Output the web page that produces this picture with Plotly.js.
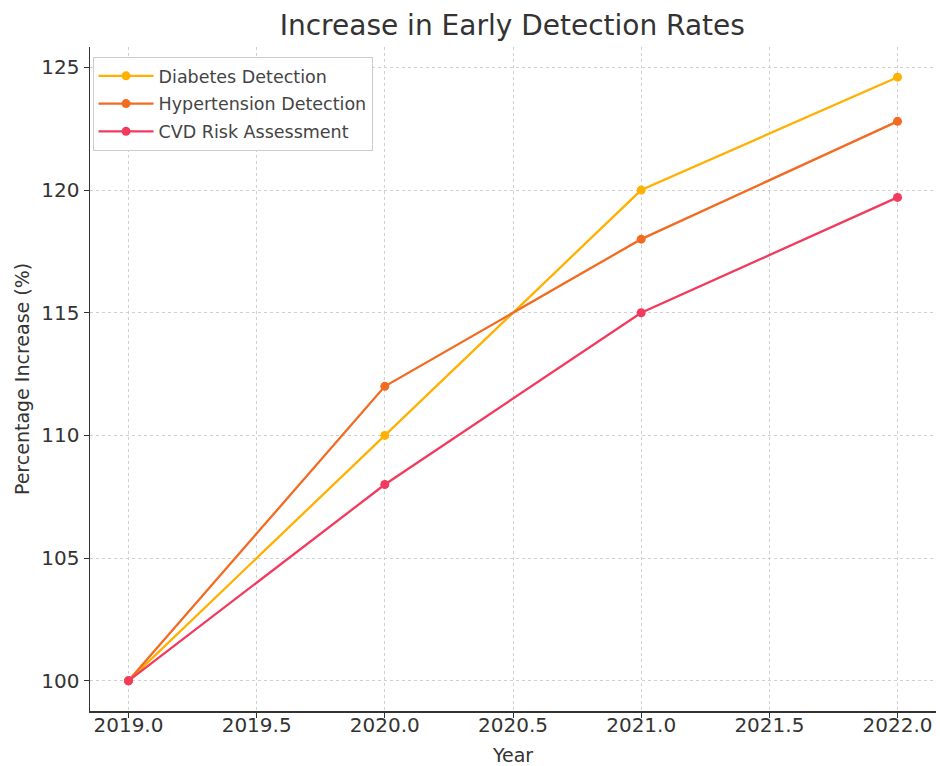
<!DOCTYPE html>
<html>
<head>
<meta charset="utf-8">
<script src="https://cdn.plot.ly/plotly-3.0.1.min.js"></script>
<style>html,body{margin:0;padding:0;background:#fff;}#chart{width:940px;height:766px;}</style>
</head>
<body>
<div id="chart"></div>
<script>
const years = [2019, 2020, 2021, 2022];
const diabetes = [100, 110, 120, 124.6];
const hypertension = [100, 112, 118, 122.8];
const cvd = [100, 108, 115, 119.7];
const seriesNames = ["Diabetes Detection", "Hypertension Detection", "CVD Risk Assessment"];
const seriesColors = ["#FFB000", "#F26B21", "#F23A5E"];
const xTicks = [2019, 2019.5, 2020, 2020.5, 2021, 2021.5, 2022];
const yTicks = [100, 105, 110, 115, 120, 125];

const font = "DejaVu Sans, sans-serif";
const data = [diabetes, hypertension, cvd].map((vals, i) => ({
  x: years, y: vals, type: "scatter", mode: "lines+markers",
  name: seriesNames[i], legendgroup: "g" + i,
  line: {color: seriesColors[i], width: 2.3},
  marker: {color: seriesColors[i], size: 9}
}));

const layout = {
  width: 940, height: 766,
  margin: {l: 90, r: 4, t: 47, b: 55},
  paper_bgcolor: "#fff", plot_bgcolor: "#fff",
  font: {family: font, color: "#333"},
  title: {text: "Increase in Early Detection Rates", font: {size: 28, family: font, color: "#333"}, x: 0.545, xanchor: "center", y: 0.967, yanchor: "middle"},
  xaxis: {
    title: {text: "Year", font: {size: 19, family: font, color: "#333"}, standoff: 14},
    range: [2018.85, 2022.15], tickvals: xTicks, ticktext: xTicks.map(v => v.toFixed(1)),
    tickfont: {size: 20, family: font, color: "#333"},
    ticklabelstandoff: -10,
    showline: true, linecolor: "#333", linewidth: 1.5, mirror: false,
    ticks: "outside", ticklen: 5, tickcolor: "#333",
    showgrid: true, gridcolor: "#d0d0d0", griddash: "dot", gridwidth: 1, zeroline: false
  },
  yaxis: {
    title: {text: "Percentage Increase (%)", font: {size: 19, family: font, color: "#333"}, standoff: 6},
    range: [98.77, 125.83], tickvals: yTicks,
    tickfont: {size: 20, family: font, color: "#333"},
    showline: true, linecolor: "#333", linewidth: 1.5, mirror: false,
    ticks: "outside", ticklen: 5, tickcolor: "#333",
    showgrid: true, gridcolor: "#d0d0d0", griddash: "dot", gridwidth: 1, zeroline: false
  },
  showlegend: true,
  legend: {x: 0.003, y: 0.985, xanchor: "left", yanchor: "top", bgcolor: "rgba(255,255,255,0.9)", bordercolor: "#cccccc", borderwidth: 1, font: {size: 17.5, family: font, color: "#444"}, tracegroupgap: 2, itemwidth: 55}
};

Plotly.newPlot("chart", data, layout, {displayModeBar: false, staticPlot: true});
</script>
</body>
</html>
